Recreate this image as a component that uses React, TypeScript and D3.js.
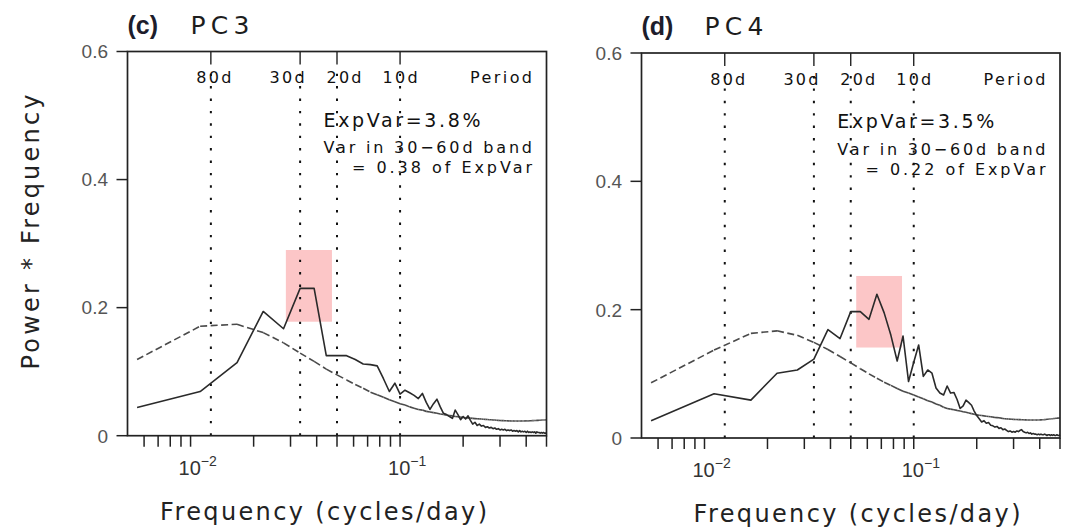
import React from 'react';
import * as d3 from 'd3';

// ---------- data ----------
const harmonics = d3.range(1, 91); // spectral harmonic index k
const recordDays = 180; // frequency = k / recordDays (cycles/day)

const pc3Power = [
  0.044, 0.069, 0.114, 0.194, 0.167, 0.230, 0.230, 0.125, 0.125, 0.125,
  0.119, 0.112, 0.111, 0.109, 0.089, 0.069, 0.082, 0.065, 0.071, 0.067,
  0.063, 0.058, 0.066, 0.052, 0.041, 0.050, 0.057, 0.045, 0.035, 0.033,
  0.030, 0.027, 0.040, 0.033, 0.025, 0.030, 0.026, 0.031, 0.024, 0.018,
  0.021, 0.016, 0.018, 0.015, 0.016, 0.013, 0.014, 0.012, 0.013, 0.011,
  0.012, 0.010, 0.011, 0.009, 0.010, 0.009, 0.010, 0.008, 0.009, 0.008,
  0.009, 0.007, 0.008, 0.007, 0.008, 0.006, 0.008, 0.006, 0.007, 0.006,
  0.007, 0.005, 0.007, 0.005, 0.006, 0.005, 0.006, 0.005, 0.006, 0.004,
  0.006, 0.005, 0.005, 0.004, 0.005, 0.004, 0.005, 0.004, 0.004, 0.004,
];
const pc3RedNoise = [
  0.119, 0.171, 0.174, 0.161, 0.145, 0.129, 0.116, 0.104, 0.095, 0.087,
  0.080, 0.074, 0.068, 0.064, 0.060, 0.056, 0.053, 0.050, 0.048, 0.045,
  0.043, 0.041, 0.040, 0.038, 0.037, 0.036, 0.035, 0.034, 0.033, 0.032,
  0.0315, 0.031, 0.030, 0.0295, 0.029, 0.0285, 0.028, 0.0278, 0.0274, 0.027,
  0.0267, 0.0264, 0.0262, 0.026, 0.0258, 0.0255, 0.0252, 0.025, 0.0248, 0.0246,
  0.0244, 0.0242, 0.024, 0.0238, 0.0236, 0.0235, 0.0234, 0.0233, 0.0232, 0.0231,
  0.023, 0.023, 0.023, 0.0229, 0.0229, 0.0229, 0.0229, 0.023, 0.023, 0.023,
  0.0231, 0.0231, 0.0232, 0.0232, 0.0233, 0.0234, 0.0235, 0.0236, 0.0237, 0.0238,
  0.0239, 0.024, 0.0241, 0.0242, 0.0243, 0.0244, 0.0245, 0.0246, 0.0247, 0.0248,
];
const pc4Power = [
  0.027, 0.069, 0.059, 0.101, 0.106, 0.123, 0.169, 0.155, 0.197, 0.197,
  0.185, 0.224, 0.195, 0.160, 0.120, 0.159, 0.088, 0.118, 0.145, 0.096,
  0.106, 0.101, 0.078, 0.070, 0.067, 0.081, 0.070, 0.071, 0.060, 0.046,
  0.050, 0.059, 0.055, 0.051, 0.042, 0.035, 0.030, 0.025, 0.027, 0.023,
  0.024, 0.020, 0.019, 0.017, 0.018, 0.015, 0.016, 0.013, 0.014, 0.012,
  0.010, 0.011, 0.009, 0.010, 0.009, 0.011, 0.010, 0.012, 0.013, 0.010,
  0.009, 0.008, 0.009, 0.007, 0.008, 0.006, 0.007, 0.006, 0.006, 0.005,
  0.006, 0.005, 0.006, 0.005, 0.005, 0.006, 0.005, 0.004, 0.005, 0.005,
  0.004, 0.005, 0.004, 0.005, 0.004, 0.004, 0.005, 0.004, 0.004, 0.005,
];
const pc4RedNoise = [
  0.086, 0.137, 0.163, 0.167, 0.160, 0.149, 0.138, 0.127, 0.117, 0.108,
  0.100, 0.093, 0.087, 0.082, 0.077, 0.073, 0.070, 0.067, 0.064, 0.061,
  0.058, 0.056, 0.053, 0.051, 0.048, 0.046, 0.045, 0.044, 0.043, 0.042,
  0.041, 0.040, 0.039, 0.038, 0.037, 0.036, 0.0355, 0.035, 0.0345, 0.034,
  0.0335, 0.033, 0.0325, 0.032, 0.0318, 0.0315, 0.031, 0.0305, 0.030, 0.0298,
  0.0296, 0.0294, 0.0292, 0.029, 0.0289, 0.0288, 0.0287, 0.0286, 0.0285, 0.0284,
  0.0283, 0.0282, 0.0281, 0.028, 0.028, 0.028, 0.028, 0.028, 0.028, 0.028,
  0.0281, 0.0282, 0.0283, 0.0284, 0.0285, 0.0287, 0.0289, 0.0291, 0.0293, 0.0295,
  0.0297, 0.0299, 0.0301, 0.0303, 0.0305, 0.0307, 0.0309, 0.031, 0.0311, 0.0312,
];

const periodDays = [80, 30, 20, 10];
const periodLabels = ['80d', '30d', '20d', '10d'];
const yTicks = [0, 0.2, 0.4, 0.6];
const yTickLabels = ['0', '0.2', '0.4', '0.6'];
const xMinorTicks = [
  0.006, 0.007, 0.008, 0.009, 0.01, 0.02, 0.03, 0.04, 0.05, 0.06, 0.07, 0.08, 0.09,
  0.1, 0.2, 0.3, 0.4, 0.5,
];
const xMajorTicks = [0.01, 0.1];
const xMajorExponents = ['\u22122', '\u22121'];
const xDomain = [0.005, 0.5];
const yDomain = [0, 0.6];

const panelLetters = ['(c)', '(d)'];
const panelNames = ['PC3', 'PC4'];
const expVarTexts = ['ExpVar=3.8%', 'ExpVar=3.5%'];
const bandTexts = ['= 0.38 of ExpVar', '= 0.22 of ExpVar'];
const highlightFreq = [[0.0285, 0.0473], [0.0531, 0.0879]];
const highlightPower = [[0.178, 0.29], [0.141, 0.2525]];
const powerSeries = [pc3Power, pc4Power];
const redNoiseSeries = [pc3RedNoise, pc4RedNoise];

// ---------- layout ----------
const boxes = [
  { left: 127.5, right: 546.5, top: 51.5, bottom: 435.7, xTitleX: 323.5 },
  { left: 641.5, right: 1060, top: 53, bottom: 438, xTitleX: 857 },
];
const FONT = "'Liberation Sans', Arial, Helvetica, sans-serif";
const WIDE = "'DejaVu Sans', Verdana, sans-serif";
const periodLabelDx = [3, -13, 7, 0];

function Panel({ idx }: { idx: number }) {
  const b = boxes[idx];
  const x = d3.scaleLog().domain(xDomain).range([b.left, b.right]);
  const y = d3.scaleLinear().domain(yDomain).range([b.bottom, b.top]);
  const freqs = harmonics.map((k) => k / recordDays);
  const power = powerSeries[idx];
  const red = redNoiseSeries[idx];
  const line = d3
    .line<number>()
    .x((_, i) => x(freqs[i]))
    .y((v) => y(v));
  const hl = highlightFreq[idx];
  const hp = highlightPower[idx];
  const line20x = x(1 / 20);

  return (
    <g>
      {/* highlight box */}
      <rect
        x={x(hl[0])}
        y={y(hp[1])}
        width={x(hl[1]) - x(hl[0])}
        height={y(hp[0]) - y(hp[1])}
        fill="#fcc6c7"
      />
      {/* period lines */}
      {periodDays.map((p, i) => {
        const px = x(1 / p);
        return (
          <g key={p}>
            <line x1={px} x2={px} y1={b.top} y2={b.top + 13} stroke="#111" strokeWidth={1.3} />
            <line
              x1={px}
              x2={px}
              y1={b.bottom}
              y2={b.top + 14}
              stroke="#111"
              strokeWidth={2}
              strokeDasharray="2.4 10"
            />
            <text
              x={px + periodLabelDx[i]}
              y={b.top + 31.5}
              fontFamily={WIDE}
              fontSize={16}
              textAnchor="middle"
              fill="#111"
              textLength={35}
              lengthAdjust="spacing"
            >
              {periodLabels[i]}
            </text>
          </g>
        );
      })}
      <text
        x={b.right - 14.5}
        y={b.top + 31.5}
        fontFamily={WIDE}
        fontSize={16}
        textAnchor="end"
        fill="#111"
        textLength={62}
        lengthAdjust="spacing"
      >
        Period
      </text>
      {/* annotation */}
      <text x={line20x - 13.5} y={b.top + 75} fontFamily={WIDE} fontSize={19} fill="#111" textLength={157} lengthAdjust="spacing">
        {expVarTexts[idx]}
      </text>
      <text x={line20x - 13.5} y={b.top + 101.5} fontFamily={WIDE} fontSize={16} fill="#111" textLength={b.right - 14.5 - (line20x - 13.5)} lengthAdjust="spacing">
        Var in 30{'\u2212'}60d band
      </text>
      <text x={b.right - 14.5} y={b.top + 121.5} fontFamily={WIDE} fontSize={16} fill="#111" textAnchor="end" textLength={180} lengthAdjust="spacing">
        {bandTexts[idx]}
      </text>
      {/* red noise, dashed per segment */}
      {red.slice(0, -1).map((v, i) => (
        <line
          key={'r' + i}
          x1={x(freqs[i])}
          y1={y(v)}
          x2={x(freqs[i + 1])}
          y2={y(red[i + 1])}
          stroke="#4a4a4a"
          strokeWidth={1.6}
          strokeDasharray="7 3.5"
        />
      ))}
      {/* power spectrum */}
      <path d={line(power) || ''} fill="none" stroke="#2a2a2a" strokeWidth={1.6} strokeLinejoin="round" />
      {/* frame */}
      <rect x={b.left} y={b.top} width={b.right - b.left} height={b.bottom - b.top} fill="none" stroke="#222" strokeWidth={1.7} />
      {/* y axis ticks */}
      {yTicks.map((t, i) => (
        <g key={t}>
          <line x1={b.left - 11} x2={b.left} y1={y(t)} y2={y(t)} stroke="#222" strokeWidth={1.5} />
          <text
            x={b.left - 19.5}
            y={y(t)}
            dy="0.36em"
            textAnchor="end"
            fontFamily={FONT}
            fontSize={19}
            fill="#555"
          >
            {yTickLabels[i]}
          </text>
        </g>
      ))}
      {/* x axis ticks */}
      {xMinorTicks.map((t) => (
        <line key={t} x1={x(t)} x2={x(t)} y1={b.bottom} y2={b.bottom + 11} stroke="#222" strokeWidth={1.5} />
      ))}
      {xMajorTicks.map((t, i) => (
        <text key={t} x={x(t) - 12} y={b.bottom + 39} fontFamily={FONT} fontSize={20} fill="#333">
          10
          <tspan dy={-9} fontSize={14}>
            {xMajorExponents[i]}
          </tspan>
        </text>
      ))}
      {/* x title */}
      <text
        x={b.xTitleX}
        y={b.bottom + 84}
        textAnchor="middle"
        fontFamily={WIDE}
        fontSize={24}
        fill="#222"
        textLength={327}
        lengthAdjust="spacing"
      >
        Frequency (cycles/day)
      </text>
      {/* title */}
      <text x={b.left} y={b.top - 18} fontFamily={FONT} fontSize={25} fontWeight="bold" fill="#1d1d2b">
        {panelLetters[idx]}
      </text>
      <text x={b.left + 63} y={b.top - 18} fontFamily={WIDE} fontSize={25} fill="#1d1d1d" textLength={59} lengthAdjust="spacing">
        {panelNames[idx]}
      </text>
    </g>
  );
}

export default function App() {
  return (
    <svg
      width={1076}
      height={529}
      viewBox="0 0 1076 529"
      style={{ position: 'absolute', left: 0, top: 0, background: '#fff' }}
    >
      <rect x={0} y={0} width={1076} height={529} fill="#fff" />
      <Panel idx={0} />
      <Panel idx={1} />
      <text
        transform="translate(39,232) rotate(-90)"
        textAnchor="middle"
        fontFamily={WIDE}
        fontSize={24}
        fill="#222"
        textLength={275}
        lengthAdjust="spacing"
      >
        Power * Frequency
      </text>
    </svg>
  );
}
